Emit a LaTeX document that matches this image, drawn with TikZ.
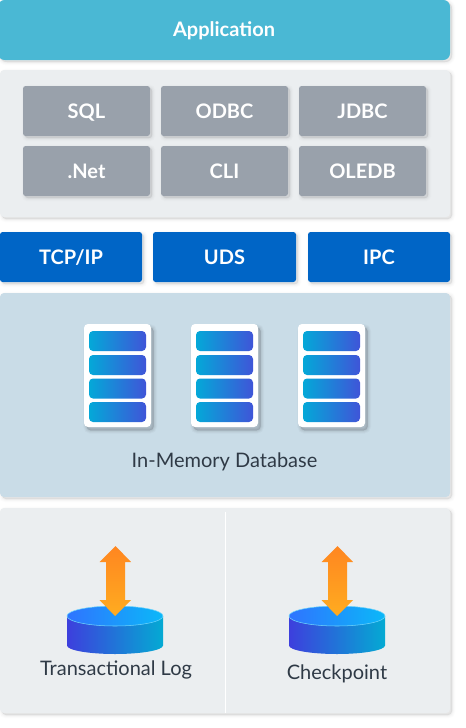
\documentclass[tikz,border=0pt]{standalone}
\usepackage{fontspec}
\setmainfont{Lato}
\usetikzlibrary{shadows,calc}
\definecolor{appc}{HTML}{4AB8D4}
\definecolor{panelc}{HTML}{EBEEF0}
\definecolor{greyc}{HTML}{99A1AB}
\definecolor{netc}{HTML}{0065C6}
\definecolor{dbc}{HTML}{C9DCE7}
\definecolor{inkc}{HTML}{2F3A46}
\tikzset{
  softshadow/.style={
    general shadow={shadow xshift=1.5pt,shadow yshift=-1.5pt,draw=black,line width=5pt,fill=black,opacity=.012},
    general shadow={shadow xshift=1.5pt,shadow yshift=-1.5pt,draw=black,line width=3.5pt,fill=black,opacity=.016},
    general shadow={shadow xshift=1.5pt,shadow yshift=-1.5pt,draw=black,line width=2pt,fill=black,opacity=.02},
    general shadow={shadow xshift=1.5pt,shadow yshift=-1.5pt,draw=black,line width=.8pt,fill=black,opacity=.025}},
  cardshadow/.style={
    general shadow={shadow xshift=2pt,shadow yshift=-2.5pt,draw=black,line width=5pt,fill=black,opacity=.025},
    general shadow={shadow xshift=2pt,shadow yshift=-2.5pt,draw=black,line width=3.5pt,fill=black,opacity=.03},
    general shadow={shadow xshift=2pt,shadow yshift=-2.5pt,draw=black,line width=2pt,fill=black,opacity=.035},
    general shadow={shadow xshift=2pt,shadow yshift=-2.5pt,draw=black,line width=.8pt,fill=black,opacity=.04}},
  box/.style={anchor=center,inner sep=0pt,outer sep=0pt,rounded corners=3pt},
  lab/.style={text=white,text height=10.8pt,text depth=0pt,font=\fontsize{15pt}{16pt}\selectfont\bfseries},
  applayer/.style={box,softshadow,fill=appc,lab,rounded corners=5pt,minimum width=339pt,minimum height=45pt,text height=9.3pt},
  panel/.style={box,softshadow,fill=panelc,minimum width=337.5pt},
  dbpanel/.style={box,softshadow,fill=dbc,minimum width=337.5pt,minimum height=153pt},
  apibox/.style={box,softshadow,fill=greyc,lab,minimum width=95.25pt,minimum height=37.5pt,rounded corners=2pt},
  netbox/.style={box,softshadow,fill=netc,lab,minimum height=37.5pt,rounded corners=2pt},
  card/.style={box,cardshadow,fill=white,minimum width=50.25pt,minimum height=77.25pt},
  bar/.style={anchor=center,inner sep=0pt,minimum width=42.75pt,minimum height=15pt,rounded corners=3pt,left color=barl,right color=barr},
  caption/.style={text=inkc,font=\fontsize{15pt}{16pt}\selectfont},
}
\definecolor{barl}{HTML}{04A8D8}
\definecolor{barr}{HTML}{3F55D8}
\definecolor{cyll}{HTML}{3D3FDD}
\definecolor{cylr}{HTML}{04AAD3}
\definecolor{topl}{HTML}{2F74FF}
\definecolor{topr}{HTML}{0BB8F8}
\definecolor{arrt}{HTML}{FF8620}
\definecolor{arrb}{HTML}{FFAC20}
\newcommand{\servercard}[2]{%
  \node[card] (#1) at (#2,375.5) {};
  \foreach \yy in {341,365,388.5,412}{\node[bar] at (#2,\yy) {};}
}
\newcommand{\diskarrow}[1]{%
  \begin{scope}[xshift=#1*0.75pt]
  \path[left color=cyll,right color=cylr] (-48,616) -- (-48,645.5)
     arc[start angle=180,end angle=0,x radius=48,y radius=8.5] -- (48,616) -- cycle;
  \path[left color=topl,right color=topr,draw=topr!60!white,line width=.4pt]
     (0,616) ellipse[x radius=48,y radius=10];
  \path[top color=arrt,bottom color=arrb]
     (.5,546) -- (16,562) -- (10,562) -- (10,600) -- (16,600) -- (0,616)
     -- (-15.5,600) -- (-9,600) -- (-9,562) -- (-15.5,562) -- cycle;
  \end{scope}
}
\begin{document}
\begin{tikzpicture}[x=0.75pt,y=-0.75pt]
\useasboundingbox[fill=white] (0,0) rectangle (465,728);
% layers
\node[applayer] (app) at (224,30) {Application};
\node[panel,minimum height=110.25pt] (api) at (225,143.5) {};
\node[apibox] (sql) at (86.5,111) {SQL};
\node[apibox] (odbc) at (224.5,111) {ODBC};
\node[apibox] (jdbc) at (362.5,111) {JDBC};
\node[apibox] (net) at (86.5,171) {.Net};
\node[apibox] (cli) at (224.5,171) {CLI};
\node[apibox] (oledb) at (362.5,171) {OLEDB};
\node[netbox,minimum width=106.5pt] (tcp) at (71,257) {TCP/IP};
\node[netbox,minimum width=107.25pt] (uds) at (224.5,257) {UDS};
\node[netbox,minimum width=106.5pt] (ipc) at (379,257) {IPC};
\node[dbpanel] (db) at (225,395) {};
\servercard{s1}{117.5}
\servercard{s2}{224.5}
\servercard{s3}{331.5}
\node[caption] (dbl) at (224.5,462) {In-Memory Database};
\node[panel,minimum height=153.75pt] (store) at (225,610.5) {};
\draw[white,line width=.8pt] (225.5,512) -- (225.5,713);
\diskarrow{115}
\diskarrow{337}
\node[caption] (tlog) at (116,670) {Transactional Log};
\node[caption] (ckpt) at (337,674) {Checkpoint};
\end{tikzpicture}
\end{document}
